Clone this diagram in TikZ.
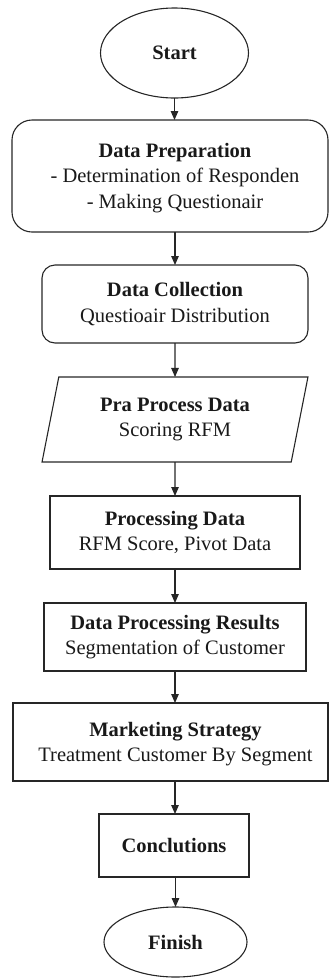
\documentclass[tikz,border=0pt]{standalone}
\usepackage{fontspec}
\setmainfont{Liberation Serif}
\usetikzlibrary{shapes.geometric,arrows.meta}
\begin{document}
\begin{tikzpicture}[x=1pt,y=-1pt,
  every node/.style={font=\fontsize{20.5}{25.5}\selectfont, text=black!90, inner sep=0pt, outer sep=0pt},
  shp/.style={draw=black!85, line width=1.1pt},
  conn/.style={draw=black!85, line width=1.1pt, -{Triangle[length=9pt,width=7.5pt]}}]
\useasboundingbox (0,0) rectangle (329,978);
\node[shp, ellipse, minimum width=148pt, minimum height=90pt] (start) at (174.5,53) {\textbf{Start}};
\node[shp, rectangle, rounded corners=20pt, minimum width=316pt, minimum height=112pt] (prep) at (170,176) {};
\node[align=center] (prept) at (175,178) {\textbf{Data Preparation}\\- Determination of Responden\\- Making Questionair};
\node[shp, rectangle, rounded corners=13pt, minimum width=266pt, minimum height=78pt, align=center] (coll) at (175,304) {\textbf{Data Collection}\\Questioair Distribution};
\node[shp, trapezium, trapezium left angle=76, trapezium right angle=104, trapezium stretches=true, minimum width=266pt, minimum height=85pt, align=center] (pra) at (175,419.5) {\textbf{Pra Process Data}\\Scoring RFM};
\node[shp, rectangle, minimum width=250pt, minimum height=73pt, align=center] (proc) at (175,532.5) {\textbf{Processing Data}\\RFM Score, Pivot Data};
\node[shp, rectangle, minimum width=262pt, minimum height=68pt, align=center] (res) at (175,637) {\textbf{Data Processing Results}\\Segmentation of Customer};
\node[shp, rectangle, minimum width=315pt, minimum height=78pt] (mkt) at (170.5,742) {};
\node[align=center] (mktt) at (175.5,744) {\textbf{Marketing Strategy}\\Treatment Customer By Segment};
\node[shp, rectangle, minimum width=150pt, minimum height=63pt] (conc) at (174,845.5) {\textbf{Conclutions}};
\node[shp, ellipse, minimum width=143pt, minimum height=70pt] (fin) at (175.5,942) {\textbf{Finish}};
\draw[conn] (start.south) -- (start.south |- prep.north);
\draw[conn] (prep.south -| coll.north) -- (coll.north);
\draw[conn] (coll.south) -- (pra.north);
\draw[conn] (pra.south) -- (proc.north);
\draw[conn] (proc.south) -- (res.north);
\draw[conn] (res.south) -- (res.south |- mkt.north);
\draw[conn] (res.south |- mkt.south) -- (res.south |- conc.north);
\draw[conn] (conc.south -| fin.north) -- (fin.north);
\end{tikzpicture}
\end{document}
